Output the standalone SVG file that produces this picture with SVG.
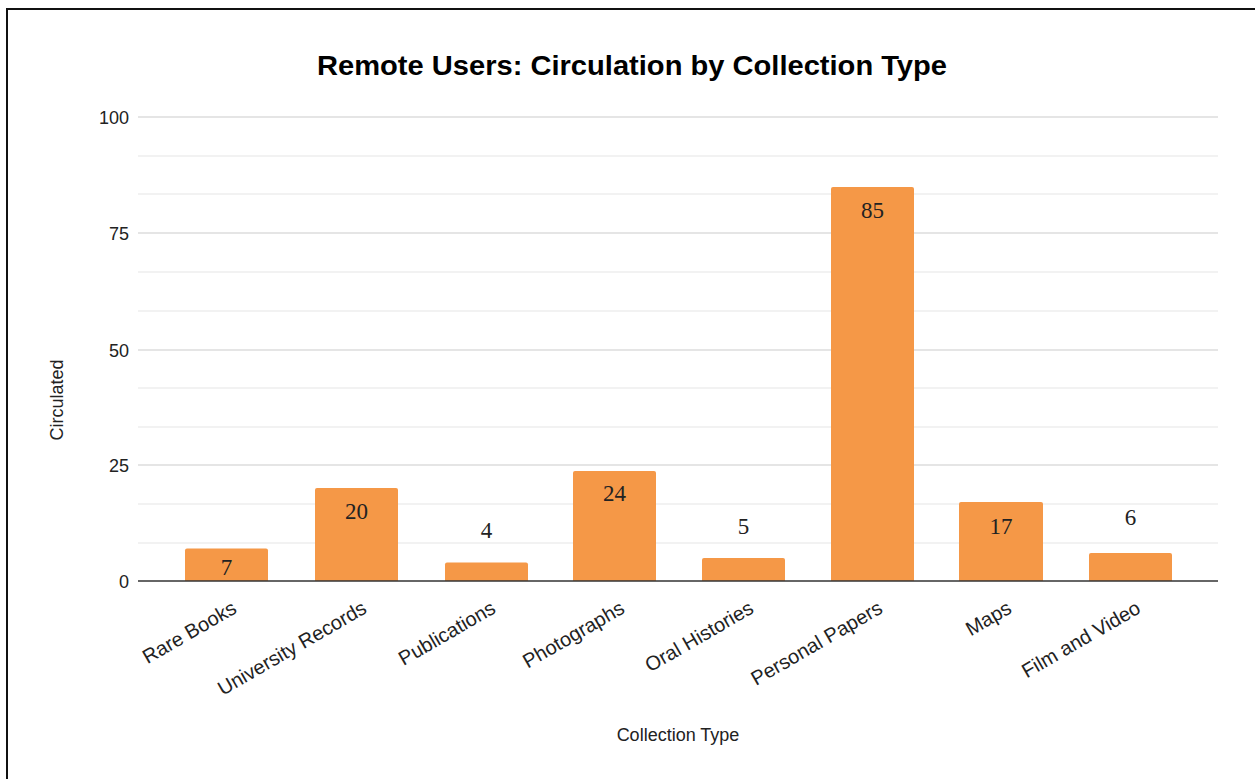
<svg xmlns="http://www.w3.org/2000/svg" width="1255" height="779" viewBox="0 0 1255 779">
<style>
.minor{stroke:#e6e6e6;stroke-width:1.2}
.major{stroke:#cccccc;stroke-width:1.2}
.bar{fill:#f59847}
.val{font-family:"Liberation Serif",serif;font-size:23px;fill:#222;text-anchor:middle}
.tick{font-family:"Liberation Sans",sans-serif;font-size:18px;fill:#222;text-anchor:end}
.cat{font-family:"Liberation Sans",sans-serif;font-size:20px;fill:#222;text-anchor:end}
.axt{font-family:"Liberation Sans",sans-serif;font-size:18px;fill:#222;text-anchor:middle}
</style>
<rect x="0" y="0" width="1255" height="779" fill="#ffffff"/>
<rect x="7" y="9" width="1270" height="800" fill="none" stroke="#111" stroke-width="2"/>
<text x="632" y="75" font-family="Liberation Sans, sans-serif" font-size="28" font-weight="bold" fill="#000" text-anchor="middle" textLength="630" lengthAdjust="spacingAndGlyphs">Remote Users: Circulation by Collection Type</text>
<g id="grid">
<line class="minor" x1="138" y1="156" x2="1218" y2="156"/>
<line class="minor" x1="138" y1="194" x2="1218" y2="194"/>
<line class="minor" x1="138" y1="272" x2="1218" y2="272"/>
<line class="minor" x1="138" y1="311" x2="1218" y2="311"/>
<line class="minor" x1="138" y1="388" x2="1218" y2="388"/>
<line class="minor" x1="138" y1="427" x2="1218" y2="427"/>
<line class="minor" x1="138" y1="504" x2="1218" y2="504"/>
<line class="minor" x1="138" y1="543" x2="1218" y2="543"/>
<line class="major" x1="138" y1="117" x2="1218" y2="117"/>
<line class="major" x1="138" y1="233" x2="1218" y2="233"/>
<line class="major" x1="138" y1="350" x2="1218" y2="350"/>
<line class="major" x1="138" y1="465" x2="1218" y2="465"/>
</g>
<g id="yticks">
<text class="tick" x="129" y="124">100</text>
<text class="tick" x="129" y="240">75</text>
<text class="tick" x="129" y="357">50</text>
<text class="tick" x="129" y="472">25</text>
<text class="tick" x="129" y="588">0</text>
</g>
<g id="bar-rare-books">
<path class="bar" d="M185,581 V550.5 Q185,548.5 187,548.5 H266 Q268,548.5 268,550.5 V581 Z"/>
<text class="val" x="226.5" y="575">7</text>
</g>
<g id="bar-university-records">
<path class="bar" d="M315,581 V490 Q315,488 317,488 H396 Q398,488 398,490 V581 Z"/>
<text class="val" x="356.5" y="519">20</text>
</g>
<g id="bar-publications">
<path class="bar" d="M445,581 V564.4 Q445,562.4 447,562.4 H526 Q528,562.4 528,564.4 V581 Z"/>
<text class="val" x="486.5" y="538">4</text>
</g>
<g id="bar-photographs">
<path class="bar" d="M573,581 V473 Q573,471 575,471 H654 Q656,471 656,473 V581 Z"/>
<text class="val" x="614.5" y="501">24</text>
</g>
<g id="bar-oral-histories">
<path class="bar" d="M702,581 V560 Q702,558 704,558 H783 Q785,558 785,560 V581 Z"/>
<text class="val" x="743.5" y="534">5</text>
</g>
<g id="bar-personal-papers">
<path class="bar" d="M831,581 V189 Q831,187 833,187 H912 Q914,187 914,189 V581 Z"/>
<text class="val" x="872.5" y="218">85</text>
</g>
<g id="bar-maps">
<path class="bar" d="M959,581 V504 Q959,502 961,502 H1041 Q1043,502 1043,504 V581 Z"/>
<text class="val" x="1001" y="534">17</text>
</g>
<g id="bar-film-and-video">
<path class="bar" d="M1089,581 V555 Q1089,553 1091,553 H1170 Q1172,553 1172,555 V581 Z"/>
<text class="val" x="1130.5" y="525">6</text>
</g>
<line x1="138" y1="581" x2="1218" y2="581" stroke="#333" stroke-width="1.5"/>
<g id="xlabels">
<text class="cat" transform="translate(238,612) rotate(-30)">Rare Books</text>
<text class="cat" transform="translate(368,612) rotate(-30)">University Records</text>
<text class="cat" transform="translate(497,612) rotate(-30)">Publications</text>
<text class="cat" transform="translate(626,612) rotate(-30)">Photographs</text>
<text class="cat" transform="translate(755,612) rotate(-30)">Oral Histories</text>
<text class="cat" transform="translate(884,612) rotate(-30)">Personal Papers</text>
<text class="cat" transform="translate(1013,612) rotate(-30)">Maps</text>
<text class="cat" transform="translate(1142,612) rotate(-30)">Film and Video</text>
</g>
<text class="axt" transform="translate(63,400) rotate(-90)">Circulated</text>
<text class="axt" x="678" y="741">Collection Type</text>
</svg>
